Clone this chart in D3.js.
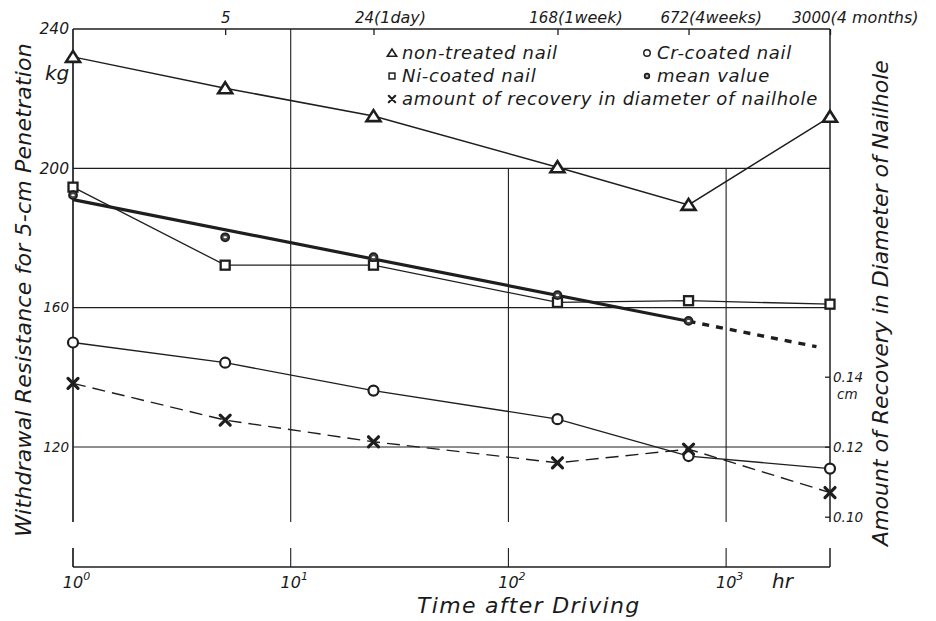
<!DOCTYPE html>
<html>
<head>
<meta charset="utf-8">
<script src="https://cdn.jsdelivr.net/npm/d3@7"></script>
<style>
  body { margin: 0; background: #fff; }
  svg text { font-family: "DejaVu Sans", sans-serif; font-style: italic; fill: #1a1a1a; }
</style>
</head>
<body>
<svg id="chart" width="936" height="621"></svg>
<script>
// values
var times      = [1, 5, 24, 168, 672, 3000];
var nonTreated = [232, 223, 215, 200.3, 189.5, 214.8];
var niCoated   = [194.6, 172.2, 172.2, 161.5, 162, 161];
var crCoated   = [150, 144.2, 136.2, 128, 117.4, 113.8];
var meanTimes  = [1, 5, 24, 168, 672];
var meanValue  = [192.3, 180.2, 174.5, 163.6, 156.2];
var fitTimes   = [1, 672, 2600];          // straight line through the means
var fitValues  = [191, 156.1, 148.8];
var recovery   = [0.1381, 0.1276, 0.1214, 0.1154, 0.1193, 0.1069];  // cm, right axis

var leftTicks   = [120, 160, 200, 240];
var rightTicks  = [0.10, 0.12, 0.14];
var topTicks    = [5, 24, 168, 672, 3000];
var topSuffix   = ["", "(1day)", "(1week)", "(4weeks)", "(4 months)"];
var bottomTicks = [1, 10, 100, 1000];
var bottomPow   = ["0", "1", "2", "3"];
var gridTimes   = [10, 100, 1000];
var gridFrom    = [240, 200, 200];   // where each vertical grid line starts
var gridValues  = [200, 160, 120];

var legendItems = [
  { sym: "tri",   label: "non-treated nail", col: 0, row: 0 },
  { sym: "sq",    label: "Ni-coated nail", col: 0, row: 1 },
  { sym: "cross", label: "amount of recovery in diameter of nailhole", col: 0, row: 2 },
  { sym: "circ",  label: "Cr-coated nail", col: 1, row: 0 },
  { sym: "mean",  label: "mean value", col: 1, row: 1 }
];

var ink = "#1e1e1e";
var svg = d3.select("#chart");

var x  = d3.scaleLog().domain([1, 3000]).range([73, 830]);
var yL = d3.scaleLinear().domain([120, 240]).range([447, 29]);
var yR = d3.scaleLinear().domain([0.10, 0.14]).range([516.7, 376.7]);
var plotBottom = 567, breakTop = 522, breakBottom = 548;

// broken vertical line (gap near the bottom like the original)
function vline(xp, y0, w) {
  svg.append("line").attr("x1", xp).attr("x2", xp).attr("y1", y0).attr("y2", breakTop)
    .attr("stroke", ink).attr("stroke-width", w);
  svg.append("line").attr("x1", xp).attr("x2", xp).attr("y1", breakBottom).attr("y2", plotBottom)
    .attr("stroke", ink).attr("stroke-width", w);
}

// grid
gridValues.forEach(function(v){
  svg.append("line").attr("x1", x(1)).attr("x2", x(3000)).attr("y1", yL(v)).attr("y2", yL(v))
    .attr("stroke", ink).attr("stroke-width", 1.1);
});
gridTimes.forEach(function(t, i){ vline(x(t), yL(gridFrom[i]), 1.1); });

// frame
svg.append("line").attr("x1", x(1)).attr("x2", x(3000)).attr("y1", yL(240)).attr("y2", yL(240))
  .attr("stroke", ink).attr("stroke-width", 1.5);
svg.append("line").attr("x1", x(1)).attr("x2", x(3000)).attr("y1", plotBottom).attr("y2", plotBottom)
  .attr("stroke", ink).attr("stroke-width", 1.6);
vline(x(1), yL(240), 1.7);
vline(x(3000), yL(240), 1.5);

// axes (labels only, lines drawn above)
var leftAxis = svg.append("g").attr("transform", "translate(" + x(1) + ",0)")
  .call(d3.axisLeft(yL).tickValues(leftTicks).tickSize(0).tickPadding(4));
leftAxis.select(".domain").remove();
leftAxis.selectAll("text").attr("font-size", function(d){ return d > 180 ? 15.5 : 13.5; });

var topAxis = svg.append("g").attr("transform", "translate(0," + yL(240) + ")")
  .call(d3.axisTop(x).tickValues(topTicks).tickSizeInner(-6).tickSizeOuter(0).tickPadding(6)
    .tickFormat(function(d){ return d; }));
topAxis.select(".domain").remove();
topAxis.selectAll("line").attr("stroke", ink).attr("stroke-width", 1.3);
topAxis.selectAll(".tick").each(function(d, i){
  var g = d3.select(this);
  var t = g.select("text").attr("font-size", 15);
  if (topSuffix[i]) {
    t.attr("text-anchor", "end");
    g.append("text").attr("y", -6).attr("text-anchor", "start").attr("font-size", 16)
      .attr("fill", ink).text(topSuffix[i]);
  }
});

var rightAxis = svg.append("g").attr("transform", "translate(" + x(3000) + ",0)")
  .call(d3.axisRight(yR).tickValues(rightTicks).tickSizeInner(-5).tickSizeOuter(0).tickPadding(3)
    .tickFormat(d3.format(".2f")));
rightAxis.select(".domain").remove();
rightAxis.selectAll("line").attr("stroke", ink).attr("stroke-width", 1.3);
rightAxis.selectAll("text").attr("font-size", 13.5);
svg.append("text").attr("x", x(3000) + 7).attr("y", yR(0.14) + 22).attr("font-size", 13.5).text("cm");

var bottomAxis = svg.append("g").attr("transform", "translate(0," + plotBottom + ")")
  .call(d3.axisBottom(x).tickValues(bottomTicks).tickSize(0).tickPadding(0).tickFormat(function(){ return ""; }));
bottomAxis.select(".domain").remove();
bottomAxis.selectAll(".tick").each(function(d, i){
  var t = d3.select(this).select("text").attr("y", 21).attr("dy", 0).attr("dx", 3).attr("font-size", 16);
  t.append("tspan").text("10");
  t.append("tspan").attr("dy", -8).attr("font-size", 11).text(bottomPow[i]);
});

// series
function series(ts, vs, y) {
  return ts.map(function(t, i){ return [x(t), y(vs[i])]; });
}
var line = d3.line();

svg.append("path").attr("d", line(series(times, crCoated, yL)))
  .attr("fill", "none").attr("stroke", ink).attr("stroke-width", 1.3);
svg.append("path").attr("d", line(series(times, recovery, yR)))
  .attr("fill", "none").attr("stroke", ink).attr("stroke-width", 1.4).attr("stroke-dasharray", "13,7");
svg.append("path").attr("d", line(series(times, niCoated, yL)))
  .attr("fill", "none").attr("stroke", ink).attr("stroke-width", 1.3);
svg.append("path").attr("d", line(series(times, nonTreated, yL)))
  .attr("fill", "none").attr("stroke", ink).attr("stroke-width", 1.5);

var fit = series(fitTimes, fitValues, yL);
svg.append("path").attr("d", line(fit.slice(0, 2)))
  .attr("fill", "none").attr("stroke", ink).attr("stroke-width", 3.2);
svg.append("path").attr("d", line(fit.slice(1)))
  .attr("fill", "none").attr("stroke", ink).attr("stroke-width", 3.4).attr("stroke-dasharray", "7,7");

// markers
function marker(sym, cx, cy, s) {
  var g = svg.append("g").attr("transform", "translate(" + cx + "," + cy + ")");
  if (sym == "tri") {
    g.append("path").attr("d", "M0," + (-6 * s) + "L" + (7 * s) + "," + (5 * s) + "L" + (-7 * s) + "," + (5 * s) + "Z")
      .attr("fill", "#fff").attr("stroke", ink).attr("stroke-width", 2.6 * s).attr("stroke-linejoin", "miter");
  } else if (sym == "sq") {
    g.append("rect").attr("x", -4.5 * s).attr("y", -4.5 * s).attr("width", 9 * s).attr("height", 9 * s)
      .attr("fill", "#fff").attr("stroke", ink).attr("stroke-width", 2.3 * s);
  } else if (sym == "circ") {
    g.append("circle").attr("r", 5 * s).attr("fill", "#fff").attr("stroke", ink).attr("stroke-width", 2.2 * s);
  } else if (sym == "mean") {
    g.append("circle").attr("r", 4 * s).attr("fill", "#444").attr("stroke", ink).attr("stroke-width", 1.8 * s);
    g.append("ellipse").attr("rx", 1.8 * s).attr("ry", 1 * s).attr("fill", "#fff");
  } else if (sym == "cross") {
    var a = 5 * s;
    g.append("path").attr("d", "M" + (-a) + "," + (-a) + "L" + a + "," + a + "M" + a + "," + (-a) + "L" + (-a) + "," + a)
      .attr("stroke", ink).attr("stroke-width", 3.2 * s).attr("stroke-linecap", "round");
  }
}

times.forEach(function(t, i){ marker("circ", x(t), yL(crCoated[i]), 1); });
times.forEach(function(t, i){ marker("cross", x(t), yR(recovery[i]), 1); });
times.forEach(function(t, i){ marker("sq", x(t), yL(niCoated[i]), 1); });
meanTimes.forEach(function(t, i){ marker("mean", x(t), yL(meanValue[i]), 1); });
times.forEach(function(t, i){ marker("tri", x(t), yL(nonTreated[i]), 1); });

// legend
var legCols = [392, 647], legRows = [59, 82, 105];
legendItems.forEach(function(d){
  marker(d.sym, legCols[d.col], legRows[d.row] - 6, 0.65);
  svg.append("text").attr("x", legCols[d.col] + 10).attr("y", legRows[d.row])
    .attr("font-size", 18).attr("letter-spacing", 0.7).text(d.label);
});

// titles
svg.append("text").attr("transform", "translate(31,290) rotate(-90)").attr("text-anchor", "middle")
  .attr("font-size", 22).attr("letter-spacing", 0.2).text("Withdrawal Resistance for 5-cm Penetration");
svg.append("text").attr("transform", "translate(888,303) rotate(-90)").attr("text-anchor", "middle")
  .attr("font-size", 22).text("Amount of Recovery in Diameter of Nailhole");
svg.append("text").attr("x", 417).attr("y", 613).attr("font-size", 22).attr("letter-spacing", 1.3)
  .text("Time after Driving");
svg.append("text").attr("x", 45).attr("y", 80).attr("font-size", 20).text("kg");
svg.append("text").attr("x", 772).attr("y", 588).attr("font-size", 20).text("hr");
</script>
</body>
</html>
